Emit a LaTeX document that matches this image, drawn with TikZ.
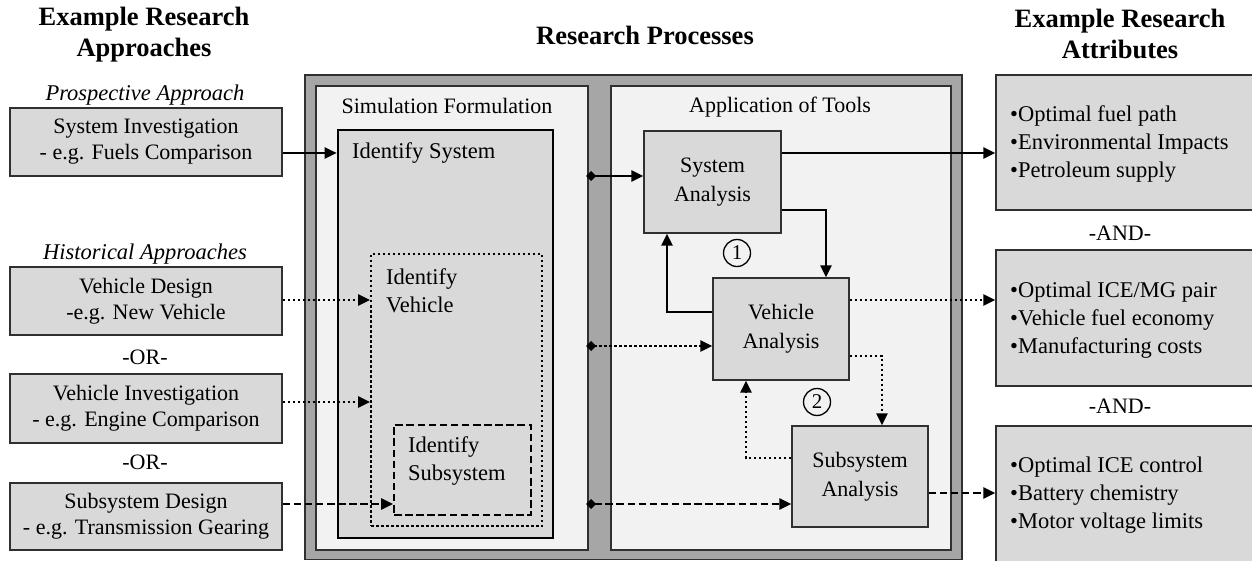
\documentclass[tikz,border=0pt]{standalone}
\usepackage{fontspec}
\setmainfont{Liberation Serif}
\usetikzlibrary{arrows.meta}
\definecolor{boxgray}{HTML}{D9D9D9}
\definecolor{framegray}{HTML}{A6A6A6}
\definecolor{panelgray}{HTML}{F2F2F2}
\definecolor{edgegray}{HTML}{303030}

\begin{document}
\begin{tikzpicture}[x=1pt,y=-1pt,
  txt/.style={font=\fontsize{22}{26}\selectfont},
  big/.style={font=\fontsize{22.5}{28}\selectfont},
  head/.style={font=\bfseries\fontsize{26.5}{31}\selectfont, align=center},
  box/.style={draw=edgegray, fill=boxgray, line width=1.3pt, align=center, inner sep=0pt, txt},
  panel/.style={draw=edgegray, fill=panelgray, line width=1.3pt},
  conn/.style={line width=2.5pt, -{Triangle[length=12pt,width=11pt]}},
  src/.style={{Diamond[length=10pt,width=10pt]}-{Triangle[length=12pt,width=11pt]}},
  dotline/.style={dash pattern=on 2.5pt off 2.5pt},
  dashline/.style={dash pattern=on 7.5pt off 3.6pt},
  bullets/.style={big, anchor=west, align=left, inner sep=0pt},
]
\useasboundingbox (0,0) rectangle (1252,561);
\clip (0,0) rectangle (1252,561);

% column headings
\node[head] (hleft) at (144,35) {Example Research\\Approaches};
\node[head] (hmid) at (645,35) {Research Processes};
\node[head] (hright) at (1120,34) {Example Research\\Attributes};

% research approaches
\node[font=\itshape\fontsize{22.5}{26}\selectfont] (prosp) at (145,95) {Prospective Approach};
\node[font=\itshape\fontsize{22.5}{26}\selectfont] (hist) at (145,254) {Historical Approaches};
\node[box, minimum width=272pt, minimum height=68pt] (sysinv) at (146,142) {System Investigation\\- e.g. Fuels Comparison};
\node[box, minimum width=272pt, minimum height=68pt] (vehdes) at (146,301) {Vehicle Design\\-e.g. New Vehicle};
\node[txt] (or1) at (145,357) {-OR-};
\node[box, minimum width=272pt, minimum height=69pt] (vehinv) at (146,408.5) {Vehicle Investigation\\- e.g. Engine Comparison};
\node[txt] (or2) at (145,462) {-OR-};
\node[box, minimum width=272pt, minimum height=67pt] (subdes) at (146,516.5) {Subsystem Design\\- e.g. Transmission Gearing};

% research process frame and its two panels
\draw[draw=edgegray, fill=framegray, line width=1.3pt] (305,75) rectangle (962,559.5);
\draw[panel] (316,86) rectangle (588,550);
\draw[panel] (611,86) rectangle (951,550);
\node[txt] (simf) at (447,106) {Simulation Formulation};
\node[txt] (appt) at (780,107) {Application of Tools};

% simulation formulation: nested scopes
\node[box, line width=2.6pt, draw=black, minimum width=215pt, minimum height=408pt] (idsys) at (445.5,334) {};
\node[big, anchor=west, inner sep=0pt] (idsyst) at (352,153) {Identify System};
\node[box, draw=black, line width=2pt, dotline, minimum width=171pt, minimum height=272pt] (idveh) at (456.5,390) {};
\node[big, anchor=west, align=left, inner sep=0pt] (idveht) at (386,291) {Identify\\Vehicle};
\node[box, draw=black, line width=2pt, dashline, minimum width=137pt, minimum height=90pt] (idsub) at (462.5,470) {};
\node[big, anchor=west, align=left, inner sep=0pt] (idsubt) at (408,461) {Identify\\Subsystem};

% application of tools
\node[box, font=\fontsize{22}{29}\selectfont, minimum width=137pt, minimum height=102pt] (sa) at (712.5,182) {System\\Analysis};
\node[box, font=\fontsize{22}{29}\selectfont, minimum width=136pt, minimum height=102pt] (va) at (781,329) {Vehicle\\Analysis};
\node[box, font=\fontsize{22}{29}\selectfont, minimum width=136pt, minimum height=101pt] (ssa) at (860,476.5) {Subsystem\\Analysis};
\node[circle, draw=black, line width=1.3pt, minimum size=27pt, inner sep=0pt, font=\fontsize{21}{24}\selectfont] (c1) at (737,253) {1};
\node[circle, draw=black, line width=1.3pt, minimum size=27pt, inner sep=0pt, font=\fontsize{21}{24}\selectfont] (c2) at (817,402) {2};

% research attributes (boxes run off the right edge)
\node[box, minimum width=270pt, minimum height=135pt] (a1) at (1131,142.5) {};
\node[bullets] (a1t) at (1010,144) {\textbullet Optimal fuel path\\\textbullet Environmental Impacts\\\textbullet Petroleum supply};
\node[txt] (and1) at (1120,233) {-AND-};
\node[box, minimum width=270pt, minimum height=136pt] (a2) at (1131,318) {};
\node[bullets] (a2t) at (1010,320) {\textbullet Optimal ICE/MG pair\\\textbullet Vehicle fuel economy\\\textbullet Manufacturing costs};
\node[txt] (and2) at (1120,406) {-AND-};
\node[box, minimum width=270pt, minimum height=140pt] (a3) at (1131,496) {};
\node[bullets] (a3t) at (1010,495) {\textbullet Optimal ICE control\\\textbullet Battery chemistry\\\textbullet Motor voltage limits};

% connector levels and bends
\coordinate (h1) at (0,153);
\coordinate (h2) at (0,300);
\coordinate (h3) at (0,402);
\coordinate (h4) at (0,504);
\coordinate (h5) at (0,493);
\coordinate (d1) at (586,176);
\coordinate (d2) at (586,346);
\coordinate (d3) at (586,504);
\coordinate (p1) at (826,210);
\coordinate (p2) at (667,312);
\coordinate (p3) at (882,356);
\coordinate (p4) at (746,458);

% approaches into the formulation
\draw[conn] (sysinv.east |- h1) -- (idsys.west |- h1);
\draw[conn, dotline] (vehdes.east |- h2) -- (idveh.west |- h2);
\draw[conn, dotline] (vehinv.east |- h3) -- (idveh.west |- h3);
\draw[conn, dashline] (subdes.east |- h4) -- (idsub.west |- h4);

% formulation feeding the tools
\draw[conn, src] (d1) -- (sa.west |- d1);
\draw[conn, src, dotline] (d2) -- (va.west |- d2);
\draw[conn, src, dashline] (d3) -- (ssa.west |- d3);

% iteration loops
\draw[conn] (sa.east |- p1) -| (va.north -| p1);
\draw[conn] (va.west |- p2) -| (sa.south -| p2);
\draw[conn, dotline] (va.east |- p3) -| (ssa.north -| p3);
\draw[conn, dotline] (ssa.west |- p4) -| (va.south -| p4);

% tools to attributes
\draw[conn] (sa.east |- h1) -- (a1.west |- h1);
\draw[conn, dotline] (va.east |- h2) -- (a2.west |- h2);
\draw[conn, dashline] (ssa.east |- h5) -- (a3.west |- h5);
\end{tikzpicture}
\end{document}
